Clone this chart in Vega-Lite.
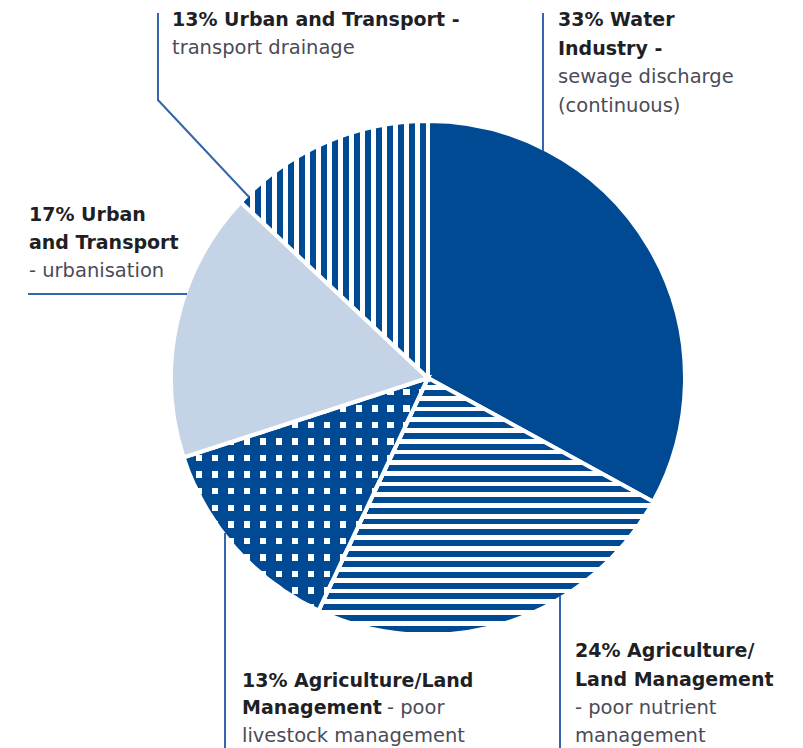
{
  "$schema": "https://vega.github.io/schema/vega-lite/v6.json",
  "width": 803,
  "height": 748,
  "autosize": {"type": "none"},
  "padding": 0,
  "background": "#ffffff",
  "config": {"view": {"stroke": null}},
  "datasets": {
    "pie": [
      {"category": "Water Industry - sewage discharge (continuous)", "pct": 33, "order": 1},
      {"category": "Agriculture/Land Management - poor nutrient management", "pct": 24, "order": 2},
      {"category": "Agriculture/Land Management - poor livestock management", "pct": 13, "order": 3},
      {"category": "Urban and Transport - urbanisation", "pct": 17, "order": 4},
      {"category": "Urban and Transport - transport drainage", "pct": 13, "order": 5}
    ],
    "labels": [
      {"part": "bold", "txt": "13% Urban and Transport -", "lx": -100.39, "ly": 138.04},
      {"part": "regular", "txt": "transport drainage", "lx": -100.39, "ly": 127.06},
      {"part": "bold", "txt": "33% Water", "lx": 50.98, "ly": 138.04},
      {"part": "bold", "txt": "Industry -", "lx": 50.98, "ly": 126.86},
      {"part": "regular", "txt": "sewage discharge", "lx": 50.98, "ly": 115.69},
      {"part": "regular", "txt": "(continuous)", "lx": 50.98, "ly": 104.51},
      {"part": "bold", "txt": "17% Urban", "lx": -156.47, "ly": 61.57},
      {"part": "bold", "txt": "and Transport", "lx": -156.47, "ly": 50.59},
      {"part": "regular", "txt": "- urbanisation", "lx": -156.47, "ly": 39.61},
      {"part": "bold", "txt": "13% Agriculture/Land", "lx": -72.94, "ly": -121.18},
      {"part": "bold", "txt": "Management", "lx": -72.94, "ly": -131.96},
      {"part": "regular", "txt": "- poor", "lx": -16.08, "ly": -131.96},
      {"part": "regular", "txt": "livestock management", "lx": -72.94, "ly": -142.75},
      {"part": "bold", "txt": "24% Agriculture/", "lx": 57.65, "ly": -109.41},
      {"part": "bold", "txt": "Land Management", "lx": 57.65, "ly": -120.78},
      {"part": "regular", "txt": "- poor nutrient", "lx": 57.65, "ly": -131.76},
      {"part": "regular", "txt": "management", "lx": 57.65, "ly": -142.75}
    ],
    "leaders": [
      {"line": "drainage", "ord": 1, "lx": -105.88, "ly": 143.14},
      {"line": "drainage", "ord": 2, "lx": -105.88, "ly": 109.02},
      {"line": "drainage", "ord": 3, "lx": -70.2, "ly": 70.98},
      {"line": "water", "ord": 1, "lx": 45.1, "ly": 143.14},
      {"line": "water", "ord": 2, "lx": 45.1, "ly": 89.02},
      {"line": "urbanisation", "ord": 1, "lx": -156.86, "ly": 32.94},
      {"line": "urbanisation", "ord": 2, "lx": -94.51, "ly": 32.94},
      {"line": "livestock", "ord": 1, "lx": -79.61, "ly": -60.78},
      {"line": "livestock", "ord": 2, "lx": -79.61, "ly": -146},
      {"line": "nutrient", "ord": 1, "lx": 51.76, "ly": -85.49},
      {"line": "nutrient", "ord": 2, "lx": 51.76, "ly": -146}
    ]
  },
  "layer": [
    {
      "data": {"name": "pie"},
      "transform": [
        {"stack": "pct", "groupby": [], "sort": [{"field": "order", "order": "ascending"}], "as": ["t0", "t1"]},
        {"filter": "datum.order == 1"}
      ],
      "mark": {"type": "arc", "outerRadius": 257, "fill": "#004a93", "stroke": "#ffffff", "strokeWidth": 4},
      "encoding": {
        "theta": {"field": "t0", "type": "quantitative", "stack": null, "scale": {"domain": [0, 100]}},
        "theta2": {"field": "t1"},
        "x": {"datum": 0, "type": "quantitative", "scale": {"domain": [-167.84, 147.06], "nice": false, "zero": false}, "axis": null},
        "y": {"datum": 0, "type": "quantitative", "scale": {"domain": [-145.1, 148.24], "nice": false, "zero": false}, "axis": null}
      }
    },
    {
      "data": {"name": "pie"},
      "transform": [
        {"stack": "pct", "groupby": [], "sort": [{"field": "order", "order": "ascending"}], "as": ["t0", "t1"]},
        {"filter": "datum.order == 2"}
      ],
      "mark": {"type": "arc", "outerRadius": 257, "stroke": "#ffffff", "strokeWidth": 4,
        "fill": {"gradient": "linear", "x1": 0, "y1": 0, "x2": 0, "y2": 1, "stops": [
          {"offset": 0, "color": "#ffffff"},
          {"offset": 0.005, "color": "#ffffff"}, {"offset": 0.005, "color": "#004a93"}, {"offset": 0.0283, "color": "#004a93"}, {"offset": 0.0283, "color": "#ffffff"},
          {"offset": 0.0467, "color": "#ffffff"}, {"offset": 0.0467, "color": "#004a93"}, {"offset": 0.07, "color": "#004a93"}, {"offset": 0.07, "color": "#ffffff"},
          {"offset": 0.0883, "color": "#ffffff"}, {"offset": 0.0883, "color": "#004a93"}, {"offset": 0.1117, "color": "#004a93"}, {"offset": 0.1117, "color": "#ffffff"},
          {"offset": 0.13, "color": "#ffffff"}, {"offset": 0.13, "color": "#004a93"}, {"offset": 0.1533, "color": "#004a93"}, {"offset": 0.1533, "color": "#ffffff"},
          {"offset": 0.1717, "color": "#ffffff"}, {"offset": 0.1717, "color": "#004a93"}, {"offset": 0.195, "color": "#004a93"}, {"offset": 0.195, "color": "#ffffff"},
          {"offset": 0.2133, "color": "#ffffff"}, {"offset": 0.2133, "color": "#004a93"}, {"offset": 0.2367, "color": "#004a93"}, {"offset": 0.2367, "color": "#ffffff"},
          {"offset": 0.255, "color": "#ffffff"}, {"offset": 0.255, "color": "#004a93"}, {"offset": 0.2783, "color": "#004a93"}, {"offset": 0.2783, "color": "#ffffff"},
          {"offset": 0.2967, "color": "#ffffff"}, {"offset": 0.2967, "color": "#004a93"}, {"offset": 0.32, "color": "#004a93"}, {"offset": 0.32, "color": "#ffffff"},
          {"offset": 0.3383, "color": "#ffffff"}, {"offset": 0.3383, "color": "#004a93"}, {"offset": 0.3617, "color": "#004a93"}, {"offset": 0.3617, "color": "#ffffff"},
          {"offset": 0.38, "color": "#ffffff"}, {"offset": 0.38, "color": "#004a93"}, {"offset": 0.4033, "color": "#004a93"}, {"offset": 0.4033, "color": "#ffffff"},
          {"offset": 0.4217, "color": "#ffffff"}, {"offset": 0.4217, "color": "#004a93"}, {"offset": 0.445, "color": "#004a93"}, {"offset": 0.445, "color": "#ffffff"},
          {"offset": 0.4633, "color": "#ffffff"}, {"offset": 0.4633, "color": "#004a93"}, {"offset": 0.4867, "color": "#004a93"}, {"offset": 0.4867, "color": "#ffffff"},
          {"offset": 0.505, "color": "#ffffff"}, {"offset": 0.505, "color": "#004a93"}, {"offset": 0.5283, "color": "#004a93"}, {"offset": 0.5283, "color": "#ffffff"},
          {"offset": 0.5467, "color": "#ffffff"}, {"offset": 0.5467, "color": "#004a93"}, {"offset": 0.57, "color": "#004a93"}, {"offset": 0.57, "color": "#ffffff"},
          {"offset": 0.5883, "color": "#ffffff"}, {"offset": 0.5883, "color": "#004a93"}, {"offset": 0.6117, "color": "#004a93"}, {"offset": 0.6117, "color": "#ffffff"},
          {"offset": 0.63, "color": "#ffffff"}, {"offset": 0.63, "color": "#004a93"}, {"offset": 0.6533, "color": "#004a93"}, {"offset": 0.6533, "color": "#ffffff"},
          {"offset": 0.6717, "color": "#ffffff"}, {"offset": 0.6717, "color": "#004a93"}, {"offset": 0.695, "color": "#004a93"}, {"offset": 0.695, "color": "#ffffff"},
          {"offset": 0.7133, "color": "#ffffff"}, {"offset": 0.7133, "color": "#004a93"}, {"offset": 0.7367, "color": "#004a93"}, {"offset": 0.7367, "color": "#ffffff"},
          {"offset": 0.755, "color": "#ffffff"}, {"offset": 0.755, "color": "#004a93"}, {"offset": 0.7783, "color": "#004a93"}, {"offset": 0.7783, "color": "#ffffff"},
          {"offset": 0.7967, "color": "#ffffff"}, {"offset": 0.7967, "color": "#004a93"}, {"offset": 0.82, "color": "#004a93"}, {"offset": 0.82, "color": "#ffffff"},
          {"offset": 0.8383, "color": "#ffffff"}, {"offset": 0.8383, "color": "#004a93"}, {"offset": 0.8617, "color": "#004a93"}, {"offset": 0.8617, "color": "#ffffff"},
          {"offset": 0.88, "color": "#ffffff"}, {"offset": 0.88, "color": "#004a93"}, {"offset": 0.9033, "color": "#004a93"}, {"offset": 0.9033, "color": "#ffffff"},
          {"offset": 0.9217, "color": "#ffffff"}, {"offset": 0.9217, "color": "#004a93"}, {"offset": 0.945, "color": "#004a93"}, {"offset": 0.945, "color": "#ffffff"},
          {"offset": 0.9633, "color": "#ffffff"}, {"offset": 0.9633, "color": "#004a93"}, {"offset": 0.9867, "color": "#004a93"}, {"offset": 0.9867, "color": "#ffffff"},
          {"offset": 1, "color": "#ffffff"}
        ]}},
      "encoding": {
        "theta": {"field": "t0", "type": "quantitative", "stack": null, "scale": {"domain": [0, 100]}},
        "theta2": {"field": "t1"},
        "x": {"datum": 0, "type": "quantitative", "scale": {"domain": [-167.84, 147.06], "nice": false, "zero": false}, "axis": null},
        "y": {"datum": 0, "type": "quantitative", "scale": {"domain": [-145.1, 148.24], "nice": false, "zero": false}, "axis": null}
      }
    },
    {
      "data": {"name": "pie"},
      "transform": [
        {"stack": "pct", "groupby": [], "sort": [{"field": "order", "order": "ascending"}], "as": ["t0", "t1"]},
        {"filter": "datum.order == 3"}
      ],
      "mark": {"type": "arc", "outerRadius": 257, "stroke": "#ffffff", "strokeWidth": 4,
        "fill": {"gradient": "linear", "x1": 0, "y1": 0, "x2": 0, "y2": 1, "stops": [
          {"offset": 0, "color": "#004a93"},
          {"offset": 0.0458, "color": "#004a93"}, {"offset": 0.0458, "color": "#ffffff"}, {"offset": 0.0734, "color": "#ffffff"}, {"offset": 0.0734, "color": "#004a93"},
          {"offset": 0.117, "color": "#004a93"}, {"offset": 0.117, "color": "#ffffff"}, {"offset": 0.1446, "color": "#ffffff"}, {"offset": 0.1446, "color": "#004a93"},
          {"offset": 0.1883, "color": "#004a93"}, {"offset": 0.1883, "color": "#ffffff"}, {"offset": 0.2159, "color": "#ffffff"}, {"offset": 0.2159, "color": "#004a93"},
          {"offset": 0.2595, "color": "#004a93"}, {"offset": 0.2595, "color": "#ffffff"}, {"offset": 0.2871, "color": "#ffffff"}, {"offset": 0.2871, "color": "#004a93"},
          {"offset": 0.3308, "color": "#004a93"}, {"offset": 0.3308, "color": "#ffffff"}, {"offset": 0.3584, "color": "#ffffff"}, {"offset": 0.3584, "color": "#004a93"},
          {"offset": 0.402, "color": "#004a93"}, {"offset": 0.402, "color": "#ffffff"}, {"offset": 0.4296, "color": "#ffffff"}, {"offset": 0.4296, "color": "#004a93"},
          {"offset": 0.4732, "color": "#004a93"}, {"offset": 0.4732, "color": "#ffffff"}, {"offset": 0.5008, "color": "#ffffff"}, {"offset": 0.5008, "color": "#004a93"},
          {"offset": 0.5445, "color": "#004a93"}, {"offset": 0.5445, "color": "#ffffff"}, {"offset": 0.5721, "color": "#ffffff"}, {"offset": 0.5721, "color": "#004a93"},
          {"offset": 0.6157, "color": "#004a93"}, {"offset": 0.6157, "color": "#ffffff"}, {"offset": 0.6433, "color": "#ffffff"}, {"offset": 0.6433, "color": "#004a93"},
          {"offset": 0.687, "color": "#004a93"}, {"offset": 0.687, "color": "#ffffff"}, {"offset": 0.7146, "color": "#ffffff"}, {"offset": 0.7146, "color": "#004a93"},
          {"offset": 0.7582, "color": "#004a93"}, {"offset": 0.7582, "color": "#ffffff"}, {"offset": 0.7858, "color": "#ffffff"}, {"offset": 0.7858, "color": "#004a93"},
          {"offset": 0.8294, "color": "#004a93"}, {"offset": 0.8294, "color": "#ffffff"}, {"offset": 0.857, "color": "#ffffff"}, {"offset": 0.857, "color": "#004a93"},
          {"offset": 0.9007, "color": "#004a93"}, {"offset": 0.9007, "color": "#ffffff"}, {"offset": 0.9283, "color": "#ffffff"}, {"offset": 0.9283, "color": "#004a93"},
          {"offset": 0.9719, "color": "#004a93"}, {"offset": 0.9719, "color": "#ffffff"}, {"offset": 0.9995, "color": "#ffffff"}, {"offset": 0.9995, "color": "#004a93"},
          {"offset": 1, "color": "#004a93"}
        ]}},
      "encoding": {
        "theta": {"field": "t0", "type": "quantitative", "stack": null, "scale": {"domain": [0, 100]}},
        "theta2": {"field": "t1"},
        "x": {"datum": 0, "type": "quantitative", "scale": {"domain": [-167.84, 147.06], "nice": false, "zero": false}, "axis": null},
        "y": {"datum": 0, "type": "quantitative", "scale": {"domain": [-145.1, 148.24], "nice": false, "zero": false}, "axis": null}
      }
    },
    {
      "data": {"name": "pie"},
      "transform": [
        {"stack": "pct", "groupby": [], "sort": [{"field": "order", "order": "ascending"}], "as": ["t0", "t1"]},
        {"filter": "datum.order == 3"}
      ],
      "mark": {"type": "arc", "outerRadius": 257, "stroke": "#ffffff", "strokeWidth": 4,
        "fill": {"gradient": "linear", "x1": 0, "y1": 0, "x2": 1, "y2": 0, "stops": [
          {"offset": 0, "color": "#004a93"},
          {"offset": 0.0506, "color": "#004a93"}, {"offset": 0.0506, "color": "rgba(0,74,147,0)"}, {"offset": 0.0768, "color": "rgba(0,74,147,0)"}, {"offset": 0.0768, "color": "#004a93"},
          {"offset": 0.1159, "color": "#004a93"}, {"offset": 0.1159, "color": "rgba(0,74,147,0)"}, {"offset": 0.1421, "color": "rgba(0,74,147,0)"}, {"offset": 0.1421, "color": "#004a93"},
          {"offset": 0.1812, "color": "#004a93"}, {"offset": 0.1812, "color": "rgba(0,74,147,0)"}, {"offset": 0.2074, "color": "rgba(0,74,147,0)"}, {"offset": 0.2074, "color": "#004a93"},
          {"offset": 0.2465, "color": "#004a93"}, {"offset": 0.2465, "color": "rgba(0,74,147,0)"}, {"offset": 0.2727, "color": "rgba(0,74,147,0)"}, {"offset": 0.2727, "color": "#004a93"},
          {"offset": 0.3118, "color": "#004a93"}, {"offset": 0.3118, "color": "rgba(0,74,147,0)"}, {"offset": 0.338, "color": "rgba(0,74,147,0)"}, {"offset": 0.338, "color": "#004a93"},
          {"offset": 0.3771, "color": "#004a93"}, {"offset": 0.3771, "color": "rgba(0,74,147,0)"}, {"offset": 0.4033, "color": "rgba(0,74,147,0)"}, {"offset": 0.4033, "color": "#004a93"},
          {"offset": 0.4424, "color": "#004a93"}, {"offset": 0.4424, "color": "rgba(0,74,147,0)"}, {"offset": 0.4686, "color": "rgba(0,74,147,0)"}, {"offset": 0.4686, "color": "#004a93"},
          {"offset": 0.5077, "color": "#004a93"}, {"offset": 0.5077, "color": "rgba(0,74,147,0)"}, {"offset": 0.5339, "color": "rgba(0,74,147,0)"}, {"offset": 0.5339, "color": "#004a93"},
          {"offset": 0.573, "color": "#004a93"}, {"offset": 0.573, "color": "rgba(0,74,147,0)"}, {"offset": 0.5992, "color": "rgba(0,74,147,0)"}, {"offset": 0.5992, "color": "#004a93"},
          {"offset": 0.6383, "color": "#004a93"}, {"offset": 0.6383, "color": "rgba(0,74,147,0)"}, {"offset": 0.6645, "color": "rgba(0,74,147,0)"}, {"offset": 0.6645, "color": "#004a93"},
          {"offset": 0.7036, "color": "#004a93"}, {"offset": 0.7036, "color": "rgba(0,74,147,0)"}, {"offset": 0.7298, "color": "rgba(0,74,147,0)"}, {"offset": 0.7298, "color": "#004a93"},
          {"offset": 0.7689, "color": "#004a93"}, {"offset": 0.7689, "color": "rgba(0,74,147,0)"}, {"offset": 0.7951, "color": "rgba(0,74,147,0)"}, {"offset": 0.7951, "color": "#004a93"},
          {"offset": 0.8342, "color": "#004a93"}, {"offset": 0.8342, "color": "rgba(0,74,147,0)"}, {"offset": 0.8604, "color": "rgba(0,74,147,0)"}, {"offset": 0.8604, "color": "#004a93"},
          {"offset": 0.8995, "color": "#004a93"}, {"offset": 0.8995, "color": "rgba(0,74,147,0)"}, {"offset": 0.9257, "color": "rgba(0,74,147,0)"}, {"offset": 0.9257, "color": "#004a93"},
          {"offset": 0.9648, "color": "#004a93"}, {"offset": 0.9648, "color": "rgba(0,74,147,0)"}, {"offset": 0.991, "color": "rgba(0,74,147,0)"}, {"offset": 0.991, "color": "#004a93"},
          {"offset": 1, "color": "#004a93"}
        ]}},
      "encoding": {
        "theta": {"field": "t0", "type": "quantitative", "stack": null, "scale": {"domain": [0, 100]}},
        "theta2": {"field": "t1"},
        "x": {"datum": 0, "type": "quantitative", "scale": {"domain": [-167.84, 147.06], "nice": false, "zero": false}, "axis": null},
        "y": {"datum": 0, "type": "quantitative", "scale": {"domain": [-145.1, 148.24], "nice": false, "zero": false}, "axis": null}
      }
    },
    {
      "data": {"name": "pie"},
      "transform": [
        {"stack": "pct", "groupby": [], "sort": [{"field": "order", "order": "ascending"}], "as": ["t0", "t1"]},
        {"filter": "datum.order == 4"}
      ],
      "mark": {"type": "arc", "outerRadius": 257, "fill": "#c4d3e6", "stroke": "#ffffff", "strokeWidth": 4},
      "encoding": {
        "theta": {"field": "t0", "type": "quantitative", "stack": null, "scale": {"domain": [0, 100]}},
        "theta2": {"field": "t1"},
        "x": {"datum": 0, "type": "quantitative", "scale": {"domain": [-167.84, 147.06], "nice": false, "zero": false}, "axis": null},
        "y": {"datum": 0, "type": "quantitative", "scale": {"domain": [-145.1, 148.24], "nice": false, "zero": false}, "axis": null}
      }
    },
    {
      "data": {"name": "pie"},
      "transform": [
        {"stack": "pct", "groupby": [], "sort": [{"field": "order", "order": "ascending"}], "as": ["t0", "t1"]},
        {"filter": "datum.order == 5"}
      ],
      "mark": {"type": "arc", "outerRadius": 257, "stroke": "#ffffff", "strokeWidth": 4,
        "fill": {"gradient": "linear", "x1": 0, "y1": 0, "x2": 1, "y2": 0, "stops": [
          {"offset": 0, "color": "#ffffff"},
          {"offset": 0.0159, "color": "#ffffff"}, {"offset": 0.0159, "color": "#004a93"}, {"offset": 0.0488, "color": "#004a93"}, {"offset": 0.0488, "color": "#ffffff"},
          {"offset": 0.0747, "color": "#ffffff"}, {"offset": 0.0747, "color": "#004a93"}, {"offset": 0.1076, "color": "#004a93"}, {"offset": 0.1076, "color": "#ffffff"},
          {"offset": 0.1335, "color": "#ffffff"}, {"offset": 0.1335, "color": "#004a93"}, {"offset": 0.1664, "color": "#004a93"}, {"offset": 0.1664, "color": "#ffffff"},
          {"offset": 0.1924, "color": "#ffffff"}, {"offset": 0.1924, "color": "#004a93"}, {"offset": 0.2253, "color": "#004a93"}, {"offset": 0.2253, "color": "#ffffff"},
          {"offset": 0.2512, "color": "#ffffff"}, {"offset": 0.2512, "color": "#004a93"}, {"offset": 0.2841, "color": "#004a93"}, {"offset": 0.2841, "color": "#ffffff"},
          {"offset": 0.31, "color": "#ffffff"}, {"offset": 0.31, "color": "#004a93"}, {"offset": 0.3429, "color": "#004a93"}, {"offset": 0.3429, "color": "#ffffff"},
          {"offset": 0.3688, "color": "#ffffff"}, {"offset": 0.3688, "color": "#004a93"}, {"offset": 0.4017, "color": "#004a93"}, {"offset": 0.4017, "color": "#ffffff"},
          {"offset": 0.4277, "color": "#ffffff"}, {"offset": 0.4277, "color": "#004a93"}, {"offset": 0.4606, "color": "#004a93"}, {"offset": 0.4606, "color": "#ffffff"},
          {"offset": 0.4865, "color": "#ffffff"}, {"offset": 0.4865, "color": "#004a93"}, {"offset": 0.5194, "color": "#004a93"}, {"offset": 0.5194, "color": "#ffffff"},
          {"offset": 0.5453, "color": "#ffffff"}, {"offset": 0.5453, "color": "#004a93"}, {"offset": 0.5782, "color": "#004a93"}, {"offset": 0.5782, "color": "#ffffff"},
          {"offset": 0.6041, "color": "#ffffff"}, {"offset": 0.6041, "color": "#004a93"}, {"offset": 0.637, "color": "#004a93"}, {"offset": 0.637, "color": "#ffffff"},
          {"offset": 0.663, "color": "#ffffff"}, {"offset": 0.663, "color": "#004a93"}, {"offset": 0.6959, "color": "#004a93"}, {"offset": 0.6959, "color": "#ffffff"},
          {"offset": 0.7218, "color": "#ffffff"}, {"offset": 0.7218, "color": "#004a93"}, {"offset": 0.7547, "color": "#004a93"}, {"offset": 0.7547, "color": "#ffffff"},
          {"offset": 0.7806, "color": "#ffffff"}, {"offset": 0.7806, "color": "#004a93"}, {"offset": 0.8135, "color": "#004a93"}, {"offset": 0.8135, "color": "#ffffff"},
          {"offset": 0.8394, "color": "#ffffff"}, {"offset": 0.8394, "color": "#004a93"}, {"offset": 0.8723, "color": "#004a93"}, {"offset": 0.8723, "color": "#ffffff"},
          {"offset": 0.8983, "color": "#ffffff"}, {"offset": 0.8983, "color": "#004a93"}, {"offset": 0.9312, "color": "#004a93"}, {"offset": 0.9312, "color": "#ffffff"},
          {"offset": 0.9571, "color": "#ffffff"}, {"offset": 0.9571, "color": "#004a93"}, {"offset": 0.99, "color": "#004a93"}, {"offset": 0.99, "color": "#ffffff"},
          {"offset": 1, "color": "#ffffff"}
        ]}},
      "encoding": {
        "theta": {"field": "t0", "type": "quantitative", "stack": null, "scale": {"domain": [0, 100]}},
        "theta2": {"field": "t1"},
        "x": {"datum": 0, "type": "quantitative", "scale": {"domain": [-167.84, 147.06], "nice": false, "zero": false}, "axis": null},
        "y": {"datum": 0, "type": "quantitative", "scale": {"domain": [-145.1, 148.24], "nice": false, "zero": false}, "axis": null}
      }
    },
    {
      "data": {"name": "leaders"},
      "mark": {"type": "line", "color": "#3465ad", "strokeWidth": 2},
      "encoding": {
        "x": {"field": "lx", "type": "quantitative", "scale": {"domain": [-167.84, 147.06], "nice": false, "zero": false}, "axis": null},
        "y": {"field": "ly", "type": "quantitative", "scale": {"domain": [-145.1, 148.24], "nice": false, "zero": false}, "axis": null},
        "detail": {"field": "line"},
        "order": {"field": "ord"}
      }
    },
    {
      "data": {"name": "labels"},
      "transform": [{"filter": "datum.part == 'bold'"}],
      "mark": {"type": "text", "align": "left", "baseline": "alphabetic", "font": "DejaVu Sans", "fontWeight": "bold", "fontSize": 19, "color": "#1f1f26"},
      "encoding": {
        "x": {"field": "lx", "type": "quantitative", "scale": {"domain": [-167.84, 147.06], "nice": false, "zero": false}, "axis": null},
        "y": {"field": "ly", "type": "quantitative", "scale": {"domain": [-145.1, 148.24], "nice": false, "zero": false}, "axis": null},
        "text": {"field": "txt"}
      }
    },
    {
      "data": {"name": "labels"},
      "transform": [{"filter": "datum.part == 'regular'"}],
      "mark": {"type": "text", "align": "left", "baseline": "alphabetic", "font": "DejaVu Sans", "fontSize": 19.5, "color": "#4b4b57"},
      "encoding": {
        "x": {"field": "lx", "type": "quantitative", "scale": {"domain": [-167.84, 147.06], "nice": false, "zero": false}, "axis": null},
        "y": {"field": "ly", "type": "quantitative", "scale": {"domain": [-145.1, 148.24], "nice": false, "zero": false}, "axis": null},
        "text": {"field": "txt"}
      }
    }
  ]
}
